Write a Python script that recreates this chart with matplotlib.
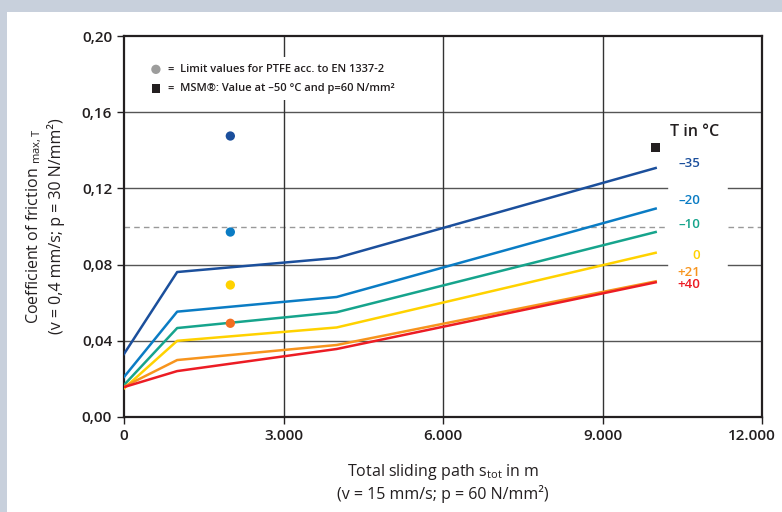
import matplotlib.pyplot as plt
from matplotlib.patches import Rectangle
from matplotlib.transforms import ScaledTranslation

# data
path = [0, 1000, 4000, 10000]
temps = ["–35", "–20", "–10", "0", "+21", "+40"]
colors = ["#1b4f9c", "#0a7cc4", "#16a48c", "#ffd200", "#f7941d", "#ec1c24"]
mu_m35 = [0.0331, 0.0761, 0.0835, 0.1307]
mu_m20 = [0.0210, 0.0553, 0.0630, 0.1094]
mu_m10 = [0.0168, 0.0467, 0.0550, 0.0971]
mu_0 = [0.0150, 0.0400, 0.0470, 0.0862]
mu_p21 = [0.0159, 0.0299, 0.0378, 0.0712]
mu_p40 = [0.0157, 0.0241, 0.0357, 0.0707]
series = [mu_m35, mu_m20, mu_m10, mu_0, mu_p21, mu_p40]

# PTFE limit values (at 2000 m)
ptfe_x = [2000, 2000, 2000, 2000]
ptfe_y = [0.1475, 0.0971, 0.0693, 0.0492]
ptfe_c = ["#1b4f9c", "#0a7cc4", "#ffd200", "#f26f21"]

# MSM value
msm_x = [10000]
msm_y = [0.1416]

label_y = [0.1333, 0.1134, 0.1008, 0.0850, 0.0761, 0.0698]

plt.rcParams['font.family'] = ['Open Sans', 'DejaVu Sans']
plt.rcParams['font.weight'] = 'semibold'

fig = plt.figure(figsize=(7.82, 5.12), dpi=100, facecolor="#c8d0dc")
fig.patches.append(Rectangle((7 / 782, 0), 1, 500 / 512, transform=fig.transFigure,
                             facecolor="white", edgecolor="none", zorder=-10))
ax = fig.add_axes([124 / 782, 1 - 417 / 512, 638 / 782, 381 / 512])
ax.set_facecolor("none")
ax.set_xlim(0, 12000)
ax.set_ylim(0, 0.20)

# grid (some lines broken where the temperature labels sit)
gap0, gap1 = 10213, 11361
for yv in [0.04, 0.16]:
    ax.plot([0, 12000], [yv, yv], color="#555555", lw=1, zorder=1)
for yv in [0.08, 0.12]:
    ax.plot([0, gap0], [yv, yv], color="#555555", lw=1, zorder=1)
    ax.plot([gap1, 12000], [yv, yv], color="#555555", lw=1, zorder=1)
ax.plot([0, gap0], [0.10, 0.10], color="#999999", lw=1, ls=(0, (4, 3)), zorder=1)
ax.plot([gap1, 12000], [0.10, 0.10], color="#999999", lw=1, ls=(0, (4, 3)), zorder=1)
for xv in [3000, 6000, 9000]:
    ax.plot([xv, xv], [0, 0.20], color="#333333", lw=1, zorder=1)

for s, c in zip(series, colors):
    ax.plot(path, s, color=c, lw=1.8, zorder=3)

ax.scatter(ptfe_x, ptfe_y, color=ptfe_c, s=45, zorder=4, edgecolors="none")
ax.scatter(msm_x, msm_y, color="#231f20", marker="s", s=45, zorder=4, edgecolors="none")

# temperature labels
ax.text(11200, 0.1495, "T in °C", fontsize=11.5, ha="right", va="center", color="#231f20")
for t, c, yv in zip(temps, colors, label_y):
    ax.text(10840, yv, t, fontsize=9.5, ha="right", va="center", color=c)

# legend box covering the grid
ax.add_patch(Rectangle((300, 0.1665), 5100, 0.0225, facecolor="white",
                       edgecolor="none", zorder=2))
ax.scatter([600], [0.1825], color="#9d9d9c", s=45, zorder=4, edgecolors="none")
ax.scatter([600], [0.1725], color="#231f20", marker="s", s=40, zorder=4, edgecolors="none")
ax.text(820, 0.1825, "=  Limit values for PTFE acc. to EN 1337-2", fontsize=8,
        va="center", color="#231f20", zorder=4)
ax.text(820, 0.1725, "=  MSM®: Value at –50 °C and p=60 N/mm²", fontsize=8,
        va="center", color="#231f20", zorder=4)

ax.set_xticks([0, 3000, 6000, 9000, 12000])
ax.set_xticklabels(["0", "3.000", "6.000", "9.000", "12.000"])
ax.set_yticks([0, 0.04, 0.08, 0.12, 0.16, 0.20])
ax.set_yticklabels(["0,00", "0,04", "0,08", "0,12", "0,16", "0,20"])
ax.tick_params(labelsize=11, length=5, width=1, color="#231f20", labelcolor="#231f20")
last = ax.get_xticklabels()[-1]
last.set_transform(last.get_transform() + ScaledTranslation(-10 / 100, 0, fig.dpi_scale_trans))
for sp in ax.spines.values():
    sp.set_linewidth(1.6)
    sp.set_color("#231f20")

ax.set_xlabel("Total sliding path s$_{\\mathregular{tot}}$ in m\n(v = 15 mm/s; p = 60 N/mm²)",
              fontsize=11.5, color="#231f20", labelpad=14, linespacing=1.2)
ax.set_ylabel("Coefficient of friction $_{\\mathregular{max,T}}$\n(v = 0,4 mm/s; p = 30 N/mm²)",
              fontsize=11.5, color="#231f20", labelpad=12, linespacing=1.2)

fig.savefig("out.png", dpi=100, facecolor=fig.get_facecolor())
